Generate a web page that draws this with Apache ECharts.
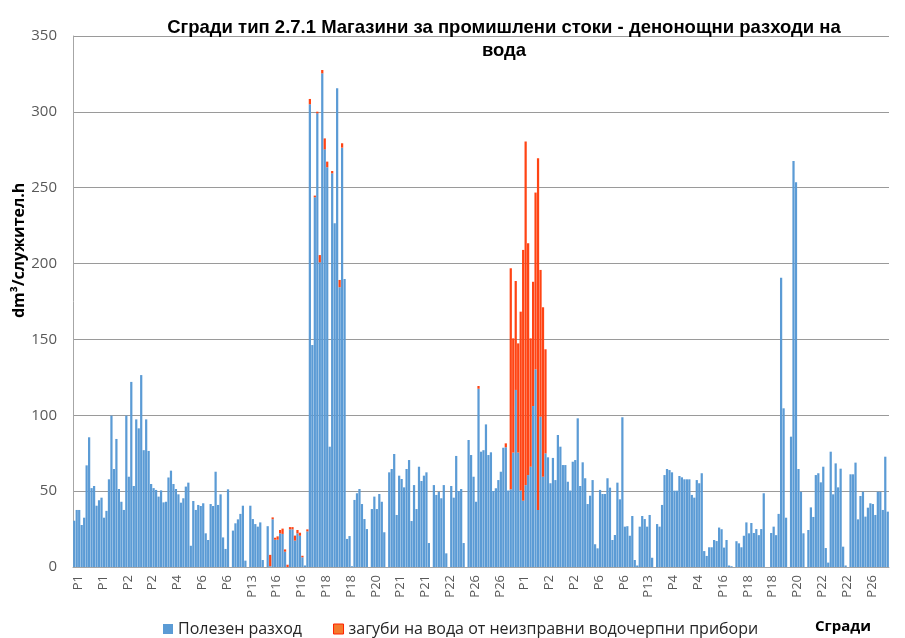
<!DOCTYPE html>
<html lang="bg">
<head>
    <meta charset="UTF-8">
    <title>Сгради тип 2.7.1</title>
    <script src="https://cdn.jsdelivr.net/npm/echarts@6.0.0/dist/echarts.min.js"></script>
    <style>
        html, body { margin: 0; padding: 0; background: #fff; }
        #chart { width: 905px; height: 638px; }
    </style>
</head>
<body>
    <div id="chart"></div>
    <script>
        // Every 10th category label, as shown under the axis
        var tickLabels = ['P1', 'P1', 'P2', 'P2', 'P4', 'P6', 'P6', 'P13', 'P16', 'P16', 'P18',
            'P18', 'P20', 'P21', 'P21', 'P22', 'P26', 'P26', 'P1', 'P2', 'P2', 'P6', 'P6',
            'P13', 'P4', 'P4', 'P16', 'P18', 'P18', 'P20', 'P22', 'P22', 'P26'];

        // Полезен разход, dm3/служител.h
        var useful = [
            30.5, 37.6, 37.6, 27.7, 32.5, 67, 85.5, 52, 53.4, 40.4,
            44, 45.7, 32.5, 37, 57.8, 99.8, 64.6, 84.4, 51.4, 43,
            37.6, 99.8, 59.5, 122, 53.4, 97.3, 91.4, 126.5, 77, 97.3,
            76.5, 54.7, 52, 50.8, 46.4, 50.5, 42.6, 43, 59, 63.5,
            54.7, 51.4, 47.9, 42.4, 45.3, 53, 55.6, 14, 43.5, 37.6,
            40.9, 40.2, 42, 22.2, 17.8, 41.5, 40.2, 62.8, 40.9,
            47.9, 19.5, 11.9, 51.2, 0, 24, 28.8, 31.4, 35, 40.4,
            4.2, 0, 40.4, 31.6, 28.3, 26.6, 29.4, 4.6, 0, 26.9,
            0.5, 31.5, 18, 18, 22.2, 21.8, 10.1, 0, 24.8, 24.8,
            17.4, 22.2, 20.6, 6.4, 1, 23.5,
            305, 146.3, 243.7, 299, 200.8, 325.4, 275.3, 263.5, 79.3, 259.5,
            226.6, 315.5, 184.4, 276.4, 189.8, 18.5, 20.4, 0.5, 44.2, 48.6,
            51.4, 41.5, 31.6, 25, 0, 38.2,
            46.4, 38.2, 48.1, 43, 22.9, 0, 62.4, 64.6, 74.5, 34.3,
            60.2, 58, 52.5, 64.6, 70.5, 30.3, 54, 38.2, 66.1, 56.7,
            60.2, 62.4, 15.8, 0, 54, 47.5, 49.6, 45.3, 54, 9,
            0, 53.4, 45.7, 73.2, 50.1, 51.4, 15.8, 0, 83.7, 73.8,
            59.5, 43, 117.5, 76, 77, 94, 73.8, 75.6, 50.1, 51.9,
            57.3, 62.8, 78.6, 78.9, 50.4,
            51.2, 75.4, 116.7, 75.4, 50.4, 43.7, 54, 60.6, 66.1, 106.1,
            130.3, 37.6, 99.1, 59.5, 74.9,
            72.3, 55.2, 71.9, 57.3, 87, 79.3, 67.2, 67.2, 56.2, 50.4,
            69.4, 70.5, 98,
            53.4, 69, 58.5, 41.5, 47, 57.3, 15, 12.3, 50.8, 48.1,
            48.1, 58.5, 52.3, 17.8, 21.1, 55.6, 44.6, 98.7, 26.6, 26.9,
            20.6, 33.6, 4.6, 1, 26.6, 33.6, 31.6, 26.6, 34.3, 6.1,
            0, 28.3, 26.6, 40.9, 60.6, 64.6, 63.9, 62.4, 50.3, 50.3,
            60, 59.1, 57.8, 57.8, 57.8, 47.5, 45.7, 57.3, 55.2, 61.8,
            10.5, 7.3, 13, 13, 17.8, 17.1,
            26, 24.9, 12.8, 17.8, 1, 0.5, 0, 17, 15.6, 13,
            20.6, 29.4, 22.2, 29, 22.4, 25, 21, 25, 48.6, 0,
            0, 22.4, 26.6, 21, 35, 190.7, 104.6, 32.5, 0, 85.9,
            267.6, 253.6, 64.6, 49.6, 22.2, 0, 24.4, 39.3, 33, 60.6,
            61.8, 55.8, 66.1, 12.5, 2.9, 76, 47.9, 68.3, 52.5, 64.8,
            13.4, 1, 0, 61.1, 61.1, 68.8, 31.4, 46.8, 49.6, 33.2,
            39.1, 42, 41.5, 34.3, 49.6, 49.6, 37.6, 72.7, 36.5
        ];

        // загуби на вода от неизправни водочерпни прибори
        var losses = [
            0, 0, 0, 0, 0, 0, 0, 0, 0, 0,
            0, 0, 0, 0, 0, 0, 0, 0, 0, 0,
            0, 0, 0, 0, 0, 0, 0, 0, 0, 0,
            0, 0, 0, 0, 0, 0, 0, 0, 0, 0,
            0, 0, 0, 0, 0, 0, 0, 0, 0, 0,
            0, 0, 0, 0, 0, 0, 0, 0, 0,
            0, 0, 0, 0, 0, 0, 0, 0, 0, 0,
            0, 0, 0, 0, 0, 0, 0, 0, 0, 0,
            7.5, 1.2, 1.3, 2.2, 2.2, 3.5, 1.5, 1.5, 1.5, 1.5,
            3.3, 2.2, 2, 1, 0, 1.3,
            3.5, 0, 1.1, 1.1, 4.8, 2.2, 7.2, 3.7, 0, 1.5,
            0, 0, 4.8, 2.9, 0, 0, 0, 0, 0, 0,
            0, 0, 0, 0, 0, 0,
            0, 0, 0, 0, 0, 0, 0, 0, 0, 0,
            0, 0, 0, 0, 0, 0, 0, 0, 0, 0,
            0, 0, 0, 0, 0, 0, 0, 0, 0, 0,
            0, 0, 0, 0, 0, 0, 0, 0, 0, 0,
            0, 0, 1.8, 0, 0, 0, 0, 0, 0, 0,
            0, 0, 0, 2.6, 0,
            145.7, 75.3, 71.8, 72, 117.9, 165.3, 226.4, 152.8, 84.6, 81.9,
            116.5, 231.8, 96.7, 111.7, 68.6,
            0, 0, 0, 0, 0, 0, 0, 0, 0, 0,
            0, 0, 0,
            0, 0, 0, 0, 0, 0, 0, 0, 0, 0,
            0, 0, 0, 0, 0, 0, 0, 0, 0, 0,
            0, 0, 0, 0, 0, 0, 0, 0, 0, 0,
            0, 0, 0, 0, 0, 0, 0, 0, 0, 0,
            0, 0, 0, 0, 0, 0, 0, 0, 0, 0,
            0, 0, 0, 0, 0, 0,
            0, 0, 0, 0, 0, 0, 0, 0, 0, 0,
            0, 0, 0, 0, 0, 0, 0, 0, 0, 0,
            0, 0, 0, 0, 0, 0, 0, 0, 0, 0,
            0, 0, 0, 0, 0, 0, 0, 0, 0, 0,
            0, 0, 0, 0, 0, 0, 0, 0, 0, 0,
            0, 0, 0, 0, 0, 0, 0, 0, 0, 0,
            0, 0, 0, 0, 0, 0, 0, 0, 0
        ];

        // one category per bar, named after the label of its group of ten
        var categories = useful.map(function (v, i) {
            return tickLabels[Math.floor(i / 10)];
        });

        var chart = echarts.init(document.getElementById('chart'));

        var option = {
            animation: false,
            backgroundColor: '#ffffff',
            title: {
                text: 'Сгради тип 2.7.1 Магазини за промишлени стоки - денонощни разходи на\nвода',
                left: 499,
                top: 11,
                textAlign: 'center',
                textStyle: {
                    fontFamily: 'Liberation Sans',
                    fontSize: 18.5,
                    fontWeight: 'bold',
                    color: '#000',
                    lineHeight: 23
                }
            },
            legend: {
                left: 158,
                top: 616,
                itemWidth: 10,
                itemHeight: 10,
                itemGap: 31,
                icon: 'rect',
                textStyle: { fontFamily: 'Open Sans', fontSize: 16, color: '#262626' },
                data: [
                    { name: 'Полезен разход', itemStyle: { color: '#5B9BD5' } },
                    { name: 'загуби на вода от неизправни водочерпни прибори',
                      itemStyle: { color: '#F47A2E', borderColor: '#FF2200', borderWidth: 1 } }
                ]
            },
            graphic: [
                {
                    type: 'text',
                    left: 815,
                    top: 619,
                    style: { text: 'Сгради', fontFamily: 'Open Sans', fontSize: 15, fontWeight: 'bold', fill: '#000' }
                },
                {
                    type: 'text',
                    x: 11,
                    y: 318,
                    rotation: Math.PI / 2,
                    style: { text: 'dm³/служител.h', fontFamily: 'Open Sans', fontSize: 16, fontWeight: 'bold', fill: '#000' }
                }
            ],
            grid: { left: 73, right: 16, top: 36, bottom: 71, containLabel: false },
            xAxis: {
                type: 'category',
                data: categories,
                axisLine: { show: true, lineStyle: { color: '#A6A6A6' } },
                axisTick: { show: false },
                axisLabel: {
                    interval: 9,
                    rotate: 90,
                    margin: 8,
                    verticalAlign: 'top',
                    lineHeight: 8,
                    fontFamily: 'Open Sans',
                    fontSize: 13,
                    color: '#595959'
                }
            },
            yAxis: {
                type: 'value',
                min: 0,
                max: 350,
                interval: 50,
                axisLine: { show: true, lineStyle: { color: '#A6A6A6' } },
                axisTick: { show: false },
                axisLabel: { margin: 16, fontFamily: 'Open Sans', fontSize: 15, color: '#595959' },
                splitLine: { lineStyle: { color: '#9A9A9A', width: 1 } }
            },
            series: [
                {
                    name: 'Полезен разход',
                    type: 'bar',
                    stack: 'total',
                    barCategoryGap: '10%',
                    itemStyle: { color: '#5B9BD5' },
                    data: useful
                },
                {
                    name: 'загуби на вода от неизправни водочерпни прибори',
                    type: 'bar',
                    stack: 'total',
                    barCategoryGap: '10%',
                    itemStyle: { color: '#FF4414' },
                    data: losses
                }
            ]
        };

        chart.setOption(option);
    </script>
</body>
</html>
